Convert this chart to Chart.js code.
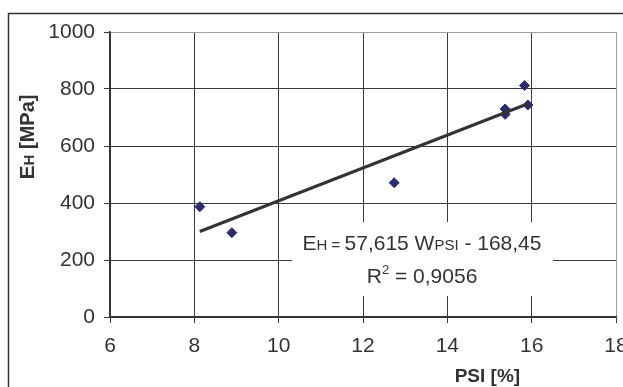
<!DOCTYPE html>
<html>
<head>
<meta charset="utf-8">
<script src="https://cdn.jsdelivr.net/npm/chart.js@4.4.1/dist/chart.umd.min.js"></script>
<style>
  html, body { margin: 0; padding: 0; background: #fff; overflow: hidden; }
  #wrap { width: 640px; height: 387px; }
</style>
</head>
<body>
<div id="wrap"><canvas id="chart" width="640" height="387"></canvas></div>
<script>
// PSI [%] vs E_H [MPa]
const psiValues = [8.13, 8.89, 12.74, 15.37, 15.37, 15.83, 15.91];
const ehValues = [387, 296, 471, 730, 711, 812, 744];

const xTicks = [6, 8, 10, 12, 14, 16, 18];
const yTicks = [0, 200, 400, 600, 800, 1000];

// trendline shown in the chart
const slope = 57.615;
const intercept = -168.45;
const rSquared = "0,9056";
const trendX = [Math.min(...psiValues), Math.max(...psiValues)];

const FONT = "'Liberation Sans', Arial, sans-serif";
const textColor = "#333333";
const gridColor = "#3a3a3a";
const edgeColor = "#a89c9c";

// draws text made of pieces with different font sizes
function drawPieces(ctx, pieces, x, y, bold) {
    let total = 0;
    pieces.forEach(p => {
        ctx.font = (bold ? "bold " : "") + p[1] + "px " + FONT;
        total += ctx.measureText(p[0]).width;
    });
    let cx = x - total / 2;
    pieces.forEach(p => {
        ctx.font = (bold ? "bold " : "") + p[1] + "px " + FONT;
        ctx.fillText(p[0], cx, y - (p[2] || 0));
        cx += ctx.measureText(p[0]).width;
    });
}

const extras = {
    id: "extras",
    beforeDraw(chart) {
        const ctx = chart.ctx;
        ctx.save();
        ctx.strokeStyle = "#333";
        ctx.lineWidth = 1.5;
        ctx.strokeRect(8.5, 13.5, 800, 600);
        ctx.restore();
    },
    afterDraw(chart) {
        const ctx = chart.ctx;
        const xs = chart.scales.x, ys = chart.scales.y;
        ctx.save();
        ctx.fillStyle = textColor;
        ctx.textBaseline = "alphabetic";

        // equation box
        const bx = xs.getPixelForValue(13.4);
        const by = ys.getPixelForValue(203);
        ctx.fillStyle = "#fff";
        ctx.fillRect(bx - 130, by - 37, 261, 74);
        ctx.fillStyle = textColor;
        drawPieces(ctx, [["E", 21], ["H = ", 15], ["57,615 W", 21], ["PSI", 15], [" - 168,45", 21]], bx, by - 9, false);
        drawPieces(ctx, [["R", 21], ["2", 13, 9], [" = " + rSquared, 21]], bx, by + 24, false);

        // y axis title
        ctx.save();
        ctx.translate(34, 137);
        ctx.rotate(-Math.PI / 2);
        drawPieces(ctx, [["E", 21], ["H", 15], [" [MPa]", 20]], 0, 0, true);
        ctx.restore();

        // x axis title
        drawPieces(ctx, [["PSI [%]", 19]], xs.getPixelForValue(14.95), 382, true);
        ctx.restore();
    }
};

new Chart(document.getElementById("chart"), {
    type: "scatter",
    data: {
        datasets: [
            {
                type: "line",
                data: trendX.map(x => ({ x: x, y: slope * x + intercept })),
                borderColor: "#333333",
                borderWidth: 3,
                pointRadius: 0,
                fill: false
            },
            {
                data: psiValues.map((x, i) => ({ x: x, y: ehValues[i] })),
                pointStyle: "rectRot",
                pointRadius: 5,
                backgroundColor: "#2c2c6c",
                borderColor: "#2c2c6c",
                borderWidth: 1
            }
        ]
    },
    options: {
        responsive: false,
        animation: false,
        layout: { padding: { left: 0, right: 24, top: 32, bottom: 0 } },
        plugins: { legend: { display: false }, tooltip: { enabled: false } },
        scales: {
            x: {
                type: "linear",
                min: 6,
                max: 18,
                afterFit: s => { s.height = 70; },
                afterBuildTicks: s => { s.ticks = xTicks.map(v => ({ value: v })); },
                ticks: { color: textColor, font: { family: FONT, size: 21 }, padding: 11, callback: v => String(v) },
                grid: {
                    color: c => (c.tick && c.tick.value === 18) ? edgeColor : gridColor,
                    tickColor: gridColor,
                    tickLength: 6,
                    lineWidth: 1
                },
                border: { color: "#333", width: 1.5 }
            },
            y: {
                min: 0,
                max: 1000,
                afterFit: s => { s.width = 110; },
                afterBuildTicks: s => { s.ticks = yTicks.map(v => ({ value: v })); },
                ticks: { color: textColor, font: { family: FONT, size: 21 }, padding: 9, callback: v => String(v) },
                grid: {
                    color: c => (c.tick && c.tick.value === 1000) ? edgeColor : gridColor,
                    tickColor: gridColor,
                    tickLength: 6,
                    lineWidth: 1
                },
                border: { color: "#333", width: 1.5 }
            }
        }
    },
    plugins: [extras]
});
</script>
</body>
</html>
